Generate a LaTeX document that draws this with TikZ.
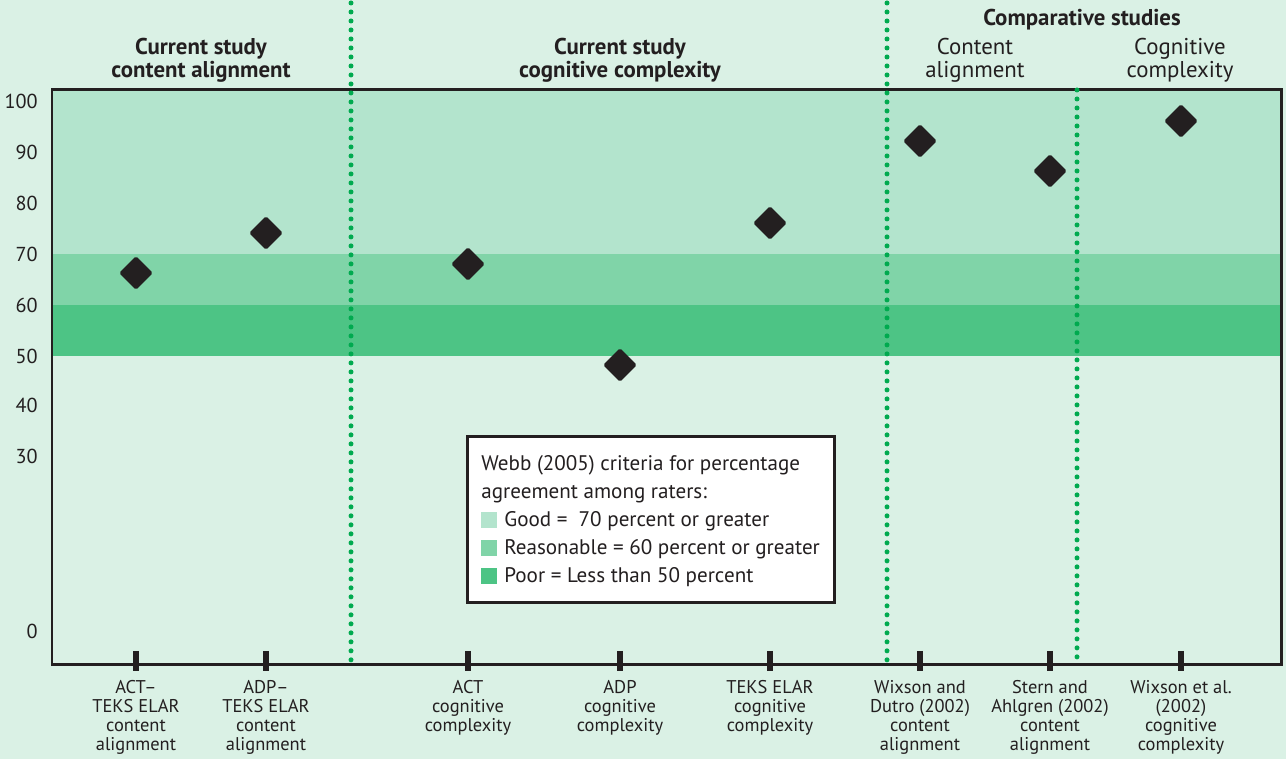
\documentclass[tikz,border=0pt]{standalone}
\usepackage{fontspec}
\setmainfont{PT Sans}
\definecolor{bgpale}{RGB}{218,241,229}
\definecolor{bandgood}{RGB}{179,228,205}
\definecolor{bandfair}{RGB}{128,212,168}
\definecolor{bandpoor}{RGB}{77,196,133}
\definecolor{dotgreen}{RGB}{0,170,79}
\definecolor{inkdark}{RGB}{35,31,32}
\usetikzlibrary{shapes.geometric,positioning}

\begin{document}
\begin{tikzpicture}[x=0.02cm, y=-0.02cm,
  score/.style={diamond, fill=inkdark, minimum size=0.68cm, inner sep=0pt, rounded corners=1pt},
  divider/.style={dotgreen, line width=0.1cm, line cap=round, dash pattern=on 0pt off 0.18cm},
  tickmark/.style={inkdark, line width=0.12cm},
  catlabel/.style={anchor=north, inner sep=0pt, align=center, text=inkdark, font=\fontsize{10.5}{10.8}\selectfont},
  headbold/.style={anchor=north, inner sep=0pt, align=center, text=inkdark, font=\fontsize{13}{13.2}\selectfont\bfseries},
  headplain/.style={anchor=north, inner sep=0pt, align=center, text=inkdark, font=\fontsize{13}{13.2}\selectfont},
  yval/.style={anchor=east, inner sep=0pt, text=inkdark, font=\fontsize{11.5}{12}\selectfont},
  legline/.style={anchor=base west, inner sep=0pt, text=inkdark, font=\fontsize{12}{12}\selectfont},
  swatch/.style={minimum size=0.32cm, inner sep=0pt, anchor=north west}
]
  \path[use as bounding box, fill=bgpale] (0,0) rectangle (1286,759);
  %% Webb bands
  \fill[bandgood] (52,90) rectangle (1281,254);
  \fill[bandfair] (52,254) rectangle (1281,305);
  \fill[bandpoor] (52,305) rectangle (1281,356);
  \draw[inkdark, line width=0.06cm] (52,90) rectangle (1281,665);
  %% y axis values
  \node[yval] (v100) at (38,101) {100};
  \node[yval] (v90) at (38,152) {90};
  \node[yval] (v80) at (38,203) {80};
  \node[yval] (v70) at (38,254) {70};
  \node[yval] (v60) at (38,305) {60};
  \node[yval] (v50) at (38,356) {50};
  \node[yval] (v40) at (38,405) {40};
  \node[yval] (v30) at (38,456) {30};
  \node[yval] (v0) at (38,631) {0};
  %% section dividers
  \draw[divider] (351,3) -- (351,665);
  \draw[divider] (887,3) -- (887,665);
  \draw[divider] (1077,90) -- (1077,665);
  %% ticks
  \draw[tickmark] (136,651) -- (136,671);
  \draw[tickmark] (266,651) -- (266,671);
  \draw[tickmark] (468,651) -- (468,671);
  \draw[tickmark] (620,651) -- (620,671);
  \draw[tickmark] (770,651) -- (770,671);
  \draw[tickmark] (920,651) -- (920,671);
  \draw[tickmark] (1050,651) -- (1050,671);
  \draw[tickmark] (1181,651) -- (1181,671);
  %% scores
  \node[score] (actcont) at (136,273) {};
  \node[score] (adpcont) at (266,233) {};
  \node[score] (actcog) at (468,264) {};
  \node[score] (adpcog) at (620,365) {};
  \node[score] (tekscog) at (770,223) {};
  \node[score] (wdcont) at (920,141) {};
  \node[score] (sacont) at (1050,171) {};
  \node[score] (wxcog) at (1181,121) {};
  %% headings
  \node[headbold] (hcont) at (201,38) {Current study\\content alignment};
  \node[headbold] (hcog) at (620,38) {Current study\\cognitive complexity};
  \node[headbold] (hcomp) at (1082,9) {Comparative studies};
  \node[headplain] (hcompcont) at (975,38) {Content\\alignment};
  \node[headplain] (hcompcog) at (1180,38) {Cognitive\\complexity};
  %% category labels
  \node[catlabel] (lactcont) at (136,680) {ACT--\\TEKS ELAR\\content\\alignment};
  \node[catlabel] (ladpcont) at (266,680) {ADP--\\TEKS ELAR\\content\\alignment};
  \node[catlabel] (lactcog) at (468,680) {ACT\\cognitive\\complexity};
  \node[catlabel] (ladpcog) at (620,680) {ADP\\cognitive\\complexity};
  \node[catlabel] (ltekscog) at (770,680) {TEKS ELAR\\cognitive\\complexity};
  \node[catlabel] (lwdcont) at (920,680) {Wixson and\\Dutro (2002)\\content\\alignment};
  \node[catlabel] (lsacont) at (1050,680) {Stern and\\Ahlgren (2002)\\content\\alignment};
  \node[catlabel] (lwxcog) at (1181,680) {Wixson et al.\\(2002)\\cognitive\\complexity};
  %% legend
  \draw[fill=white, draw=inkdark, line width=0.06cm] (467,437) rectangle (834,603);
  \node[legline] (leghead) at (481,471) {Webb (2005) criteria for percentage};
  \node[legline] (leghead2) at (481,499) {agreement among raters:};
  \node[swatch, fill=bandgood] (sgood) at (481,512) {};
  \node[legline] (lgood) at (504,527) {Good =\ \ 70 percent or greater};
  \node[swatch, fill=bandfair] (sfair) at (481,540) {};
  \node[legline] (lfair) at (504,555) {Reasonable = 60 percent or greater};
  \node[swatch, fill=bandpoor] (spoor) at (481,568) {};
  \node[legline] (lpoor) at (504,583) {Poor = Less than 50 percent};
\end{tikzpicture}
\end{document}
